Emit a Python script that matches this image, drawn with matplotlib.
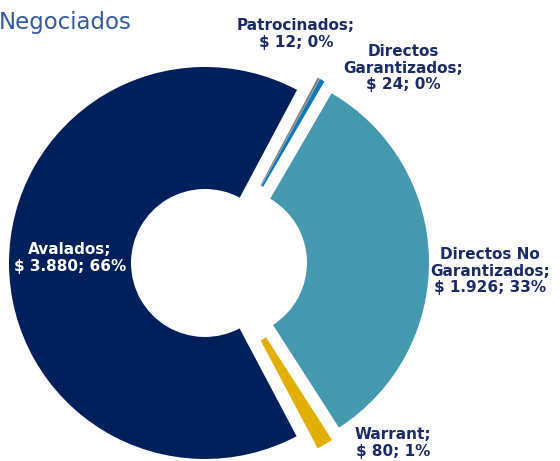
import matplotlib
matplotlib.use("Agg")
import matplotlib.pyplot as plt

# data (millones)
categorias = ["Patrocinados", "Directos\nGarantizados", "Directos No\nGarantizados", "Warrant", "Avalados"]
valores = [12, 24, 1926, 80, 3880]
colores = ["#808080", "#0A78B8", "#4499AE", "#E0AF00", "#00205C"]

# label block centres in pixels (x, y from top)
pos_etiquetas = [(296, 34), (403, 68), (490, 271), (393, 443), (70, 258)]
color_texto = ["#1B2B66", "#1B2B66", "#1B2B66", "#1B2B66", "white"]

W, H = 560, 461
R_PX = 196.0
CX, CY = 219, 263

fig = plt.figure(figsize=(W / 100, H / 100), dpi=100)
ax = fig.add_axes([0, 0, 1, 1])

ax.pie(valores, colors=colores, startangle=62, counterclock=False,
       explode=[14 / R_PX] * len(valores), radius=1,
       wedgeprops=dict(width=1 - 74 / R_PX, edgecolor="none"))
ax.set_xlim(-CX / R_PX, (W - CX) / R_PX)
ax.set_ylim(-(H - CY) / R_PX, CY / R_PX)
ax.set_aspect("equal")
ax.axis("off")

total = sum(valores)
for cat, v, (px, py), c in zip(categorias, valores, pos_etiquetas, color_texto):
    pct = round(100 * v / total)
    monto = f"{v:,}".replace(",", ".")
    txt = f"{cat};\n$ {monto}; {pct}%"
    fig.text(px / W, 1 - py / H, txt, ha="center", va="center",
             fontsize=11, fontweight="bold", color=c, linespacing=1.15,
             family="DejaVu Sans")

fig.text(-1 / W, 1 - 22 / H, "Negociados", ha="left", va="center",
         fontsize=16.5, color="#3559A0", family="DejaVu Sans")

fig.savefig("out.png", dpi=100)
